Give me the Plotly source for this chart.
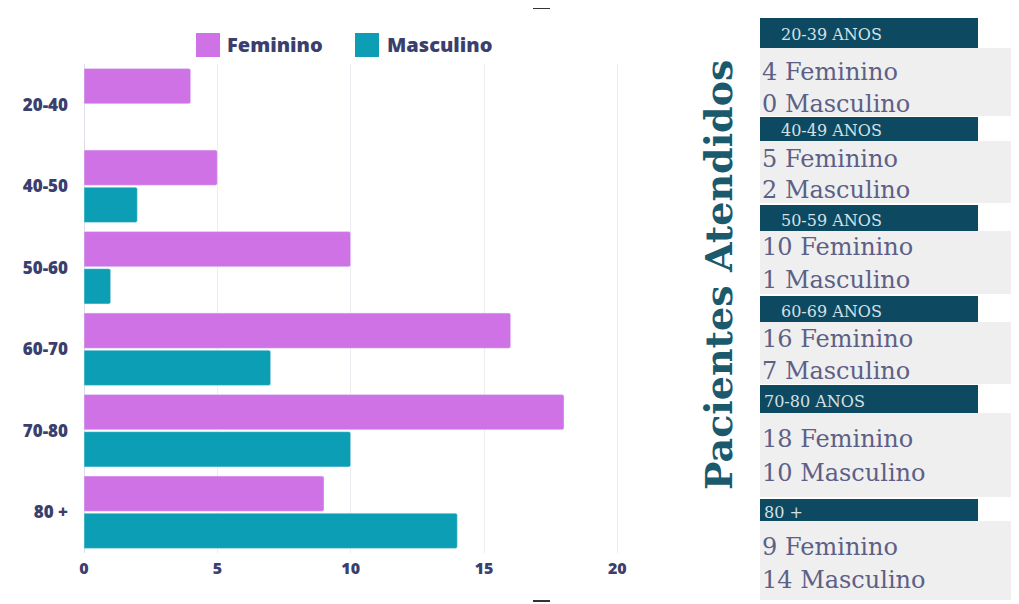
import plotly.graph_objects as go

# ---------------- data ----------------
categories = ["20-40", "40-50", "50-60", "60-70", "70-80", "80 +"]
feminino = [4, 5, 10, 16, 18, 9]
masculino = [0, 2, 1, 7, 10, 14]
x_ticks = [0, 5, 10, 15, 20]
panel_headers = ["20-39 ANOS", "40-49 ANOS", "50-59 ANOS", "60-69 ANOS", "70-80 ANOS", "80 +"]
series_names = ["Feminino", "Masculino"]
side_title = "Pacientes Atendidos"

# ---------------- style ----------------
W, H = 1019, 604
OFF = 8  # page offset of the figure inside the browser window
L, T = 84 - OFF, 64 - OFF
R = W - (644 - OFF)
B = H - (553 - OFF)
PW, PH = W - L - R, H - T - B
C_FEM = "#cf72e6"
C_MAS = "#0b9eb4"
NAVY = "#3b3f6e"
HEAD = "#0d4961"
PANEL_TXT = "#5d6086"
BOX = "#efefef"


def px(x):
    return (x - OFF - L) / PW


def py(y):
    return (H - B - (y - OFF)) / PH


fig = go.Figure()
fig.add_trace(go.Bar(y=categories, x=feminino, name=series_names[0], orientation="h",
                     marker=dict(color=C_FEM, cornerradius=2), showlegend=False))
fig.add_trace(go.Bar(y=categories, x=masculino, name=series_names[1], orientation="h",
                     marker=dict(color=C_MAS, cornerradius=2), showlegend=False))

shapes = []
annotations = []

# custom legend
leg = [(196, 225, C_FEM, series_names[0]), (355, 385, C_MAS, series_names[1])]
for sx, tx, col, name in leg:
    shapes.append(dict(type="rect", xref="paper", yref="paper", x0=px(sx), x1=px(sx + 24),
                       y0=py(57), y1=py(33), fillcolor=col, line_width=0))
    annotations.append(dict(xref="paper", yref="paper", x=px(tx), y=py(45), text=name,
                            showarrow=False, xanchor="left", yanchor="middle",
                            font=dict(family="Open Sans", size=20, color=NAVY, weight=800)))

# right panel
header_y = [(18, 48), (117, 141), (205, 231), (296, 322), (385, 413), (499, 521)]
box_y = [(48, 116), (141, 203), (231, 294), (322, 384), (413, 497), (521, 600)]
line_y = [(72, 104), (159, 190), (247, 280), (339, 371), (439, 473), (547, 580)]
head_x = [779, 779, 779, 779, 762, 762]
for i, hdr in enumerate(panel_headers):
    b0, b1 = box_y[i]
    shapes.append(dict(type="rect", xref="paper", yref="paper", x0=px(760), x1=px(1019),
                       y0=py(b1), y1=py(b0), fillcolor=BOX, line_width=0, layer="below"))
    h0, h1 = header_y[i]
    shapes.append(dict(type="rect", xref="paper", yref="paper", x0=px(760), x1=px(978),
                       y0=py(h1), y1=py(h0), fillcolor=HEAD, line_width=0))
    annotations.append(dict(xref="paper", yref="paper", x=px(head_x[i]), y=py((h0 + h1) / 2 + 2),
                            text=hdr, showarrow=False, xanchor="left", yanchor="middle",
                            font=dict(family="DejaVu Serif", size=16, color="#d5e0e6")))
    l0, l1 = line_y[i]
    annotations.append(dict(xref="paper", yref="paper", x=px(760), y=py(l0),
                            text=f"{feminino[i]} {series_names[0]}", showarrow=False,
                            xanchor="left", yanchor="middle",
                            font=dict(family="DejaVu Serif", size=24, color=PANEL_TXT)))
    annotations.append(dict(xref="paper", yref="paper", x=px(760), y=py(l1),
                            text=f"{masculino[i]} {series_names[1]}", showarrow=False,
                            xanchor="left", yanchor="middle",
                            font=dict(family="DejaVu Serif", size=24, color=PANEL_TXT)))

annotations.append(dict(xref="paper", yref="paper", x=px(718), y=py(275), text=side_title,
                        textangle=-90, showarrow=False, xanchor="center", yanchor="middle",
                        font=dict(family="DejaVu Serif", size=38, color="#1b5a6d", weight="bold")))

# small dashes top/bottom
for yy in (8, 601):
    shapes.append(dict(type="line", xref="paper", yref="paper", x0=px(533), x1=px(550),
                       y0=py(yy), y1=py(yy), line=dict(color="#333333", width=2)))

fig.update_layout(
    width=W, height=H,
    margin=dict(l=L, r=R, t=T, b=B),
    paper_bgcolor="white", plot_bgcolor="white",
    barmode="group", bargap=0.09, bargroupgap=0.05,
    shapes=shapes, annotations=annotations,
    xaxis=dict(range=[0, 21], tickvals=x_ticks, showgrid=True, gridcolor="#ececf2", gridwidth=1,
               zeroline=True, zerolinecolor="#dcdce4", zerolinewidth=1,
               tickfont=dict(family="Open Sans", size=16, color=NAVY, weight=800),
               ticklabelstandoff=4),
    yaxis=dict(autorange="reversed", showgrid=False, zeroline=False,
               tickfont=dict(family="Open Sans", size=17, color=NAVY, weight=800),
               ticklabelstandoff=15),
)

fig.write_html("out.html")
